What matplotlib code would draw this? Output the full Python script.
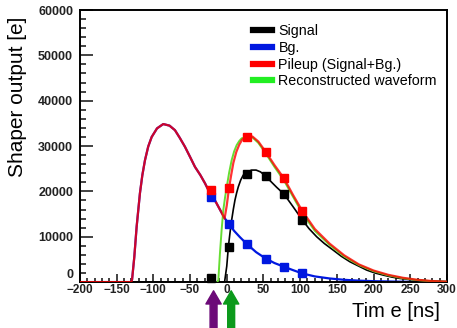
import matplotlib
matplotlib.use("Agg")
import matplotlib.pyplot as plt
from matplotlib.lines import Line2D
from matplotlib.ticker import MultipleLocator, FuncFormatter

# sampled points (squares)
t_samp = [-22, 3, 28, 53, 78, 103]
sig_samp = [800, 7800, 23750, 23370, 19400, 13700]
bg_samp = [18800, 12800, 8300, 5200, 3380, 1900]
pile_samp = [20300, 20650, 32050, 28750, 22870, 15660]

# background pulse (earlier pulse + its tail)
t_bg = [-200, -130, -129, -126, -122.8, -118.3, -115, -111.4, -107, -102.3, -95, -86.5,
        -78, -70.6, -64, -57, -50, -43.3, -36, -29.7, -22.9, -15, -8, -2.4, 3, 10, 18,
        28, 40, 53, 65, 78, 90, 103, 120, 140, 160, 180, 200, 230, 260, 300]
v_bg = [0, 0, 600, 5500, 12200, 19600, 23600, 26900, 29900, 32000, 33900, 34850,
        34500, 33500, 31800, 29850, 27600, 25400, 23600, 21800, 19600, 17700, 15600,
        14000, 12800, 11300, 9900, 8300, 6600, 5200, 4200, 3380, 2650, 1900, 1250,
        800, 500, 320, 200, 100, 50, 20]

# signal pulse
t_sig = [-200, -3, 0, 2.2, 4.5, 6.7, 9, 11.2, 13.5, 15.7, 19, 22.5, 28, 33.9, 40, 46,
         53, 60, 68, 78, 90, 103, 112, 122.5, 133, 145, 156, 167.8, 180, 190.6, 202,
         213.2, 225, 236, 248, 258.7, 280, 300]
v_sig = [0, 0, 3500, 7800, 11000, 13700, 16100, 18100, 19700, 21000, 22500, 23600,
         24300, 24700, 24700, 24300, 23370, 22200, 20900, 19400, 16700, 13700, 11800,
         10000, 8500, 7050, 5700, 4480, 3500, 2650, 2000, 1540, 1100, 800, 580, 440,
         200, 80]

# pileup (signal + bg) curve
t_pile = [-3, 0, 3, 6, 9, 13, 17, 21, 28, 35, 43, 53, 65, 78, 90, 103, 120, 140,
          160, 180, 200, 220, 240, 260, 280, 300]
v_pile = [14000, 16900, 20650, 23600, 26300, 28700, 30300, 31400, 32050, 32100,
          31000, 28750, 25800, 22870, 19300, 15660, 11700, 8500, 5900, 3900, 2550,
          1600, 950, 500, 230, 90]

# reconstructed waveform
t_rec = [-13, -11.5, -9.3, -7, -4.7, -2.3, 0, 3.3, 6.7, 10, 13.5, 17, 20.3, 28, 35,
         43, 53, 65, 78, 90, 103, 120, 140, 160, 180, 200, 220, 240, 260, 280, 300]
v_rec = [0, 440, 6300, 11500, 15900, 18700, 21000, 24200, 26900, 28800, 30200,
         31100, 31700, 32000, 31900, 30700, 28400, 25400, 22400, 18900, 15200, 11300,
         8200, 5650, 3750, 2400, 1480, 850, 430, 190, 70]

legend_labels = ["Signal", "Bg.", "Pileup (Signal+Bg.)", "Reconstructed waveform"]
c_sig, c_bg, c_pile, c_rec = "black", "#0018e0", "#ff0000", "#22ee22"

arrow_x = [-18, 6]
arrow_colors = ["#6c0a78", "#0c9a1c"]

fig = plt.figure(figsize=(4.57, 3.28), dpi=100)
ax = fig.add_axes([0.175, 0.140, 0.803, 0.8295])

ax.plot(t_bg, v_bg, color=c_bg, lw=1.6, zorder=2)
ax.plot(t_sig, v_sig, color=c_sig, lw=1.2, zorder=3)
ax.plot(t_rec, v_rec, color="#66dd33", lw=1.4, zorder=4)
ax.plot(t_bg[:23] + t_pile, v_bg[:23] + v_pile, color=c_pile, lw=1.6, alpha=0.8, zorder=5)

ms = 5.8
ax.plot(t_samp, sig_samp, "s", color=c_sig, ms=ms, zorder=6, clip_on=False)
ax.plot(t_samp, bg_samp, "s", color=c_bg, ms=ms, zorder=6)
ax.plot(t_samp, pile_samp, "s", color=c_pile, ms=ms, zorder=6)

ax.set_xlim(-200, 300)
ax.set_ylim(0, 60000)
ax.xaxis.set_major_locator(MultipleLocator(50))
ax.xaxis.set_minor_locator(MultipleLocator(10))
ax.yaxis.set_major_locator(MultipleLocator(10000))
ax.yaxis.set_minor_locator(MultipleLocator(2000))
# the y "0" is placed by hand just above "-200"
ax.yaxis.set_major_formatter(FuncFormatter(lambda v, p: "" if v == 0 else f"{v:.0f}"))
ax.tick_params(which="both", direction="in", top=False, right=False, width=1.2,
               colors="#222222")
ax.tick_params(axis="y", which="major", length=9, labelsize=9, pad=5)
ax.tick_params(axis="y", which="minor", length=4.5)
ax.tick_params(axis="x", which="major", length=6, labelsize=8.5, pad=1.5)
ax.tick_params(axis="x", which="minor", length=3)
for lab in ax.get_xticklabels() + ax.get_yticklabels():
    lab.set_fontweight("bold")
    lab.set_family("Liberation Sans")
ax.text(-0.019, 0.004, "0", transform=ax.transAxes, ha="right", va="bottom",
        fontsize=9, fontweight="bold", family="Liberation Sans", color="#222222")
for s in ax.spines.values():
    s.set_linewidth(1.4)

ax.set_ylabel("Shaper output [e]", fontsize=15, family="Liberation Sans")
ax.yaxis.set_label_coords(-0.145, 0.68)
fig.text(0.963, 0.02, "Tim e [ns]", fontsize=14.5, family="Liberation Sans",
         ha="right", va="bottom")

handles = [Line2D([], [], color=c, lw=4.5) for c in (c_sig, c_bg, c_pile, c_rec)]
ax.legend(handles, legend_labels, frameon=False, loc="upper left",
          bbox_to_anchor=(0.455, 0.97), prop={"family": "Liberation Sans", "size": 10.3},
          handlelength=1.35, handletextpad=0.45, labelspacing=0.2, borderaxespad=0)

for x, c in zip(arrow_x, arrow_colors):
    ax.annotate("", xy=(x, -0.032), xycoords=("data", "axes fraction"),
                xytext=(x, -0.175), textcoords=("data", "axes fraction"),
                arrowprops=dict(arrowstyle="simple,head_width=1.1,head_length=0.95,tail_width=0.5",
                                color=c, shrinkA=0, shrinkB=0),
                annotation_clip=False)

fig.savefig("out.png", dpi=100, facecolor="white")
